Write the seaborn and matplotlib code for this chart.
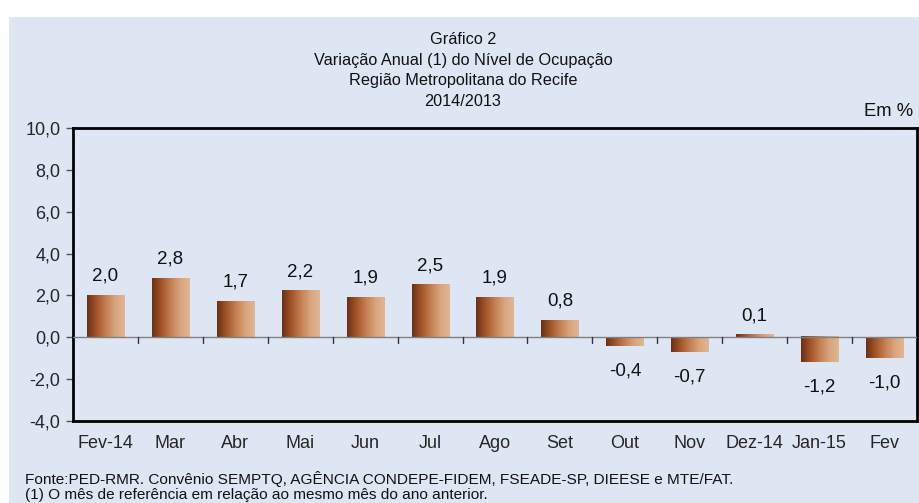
import numpy as np
import pandas as pd
import matplotlib
matplotlib.use("Agg")
import matplotlib.pyplot as plt
from matplotlib.colors import LinearSegmentedColormap
from matplotlib.patches import Rectangle
import seaborn as sns

meses = ["Fev-14", "Mar", "Abr", "Mai", "Jun", "Jul", "Ago", "Set",
         "Out", "Nov", "Dez-14", "Jan-15", "Fev"]
variacao = [2.0, 2.8, 1.7, 2.2, 1.9, 2.5, 1.9, 0.8, -0.4, -0.7, 0.1, -1.2, -1.0]
yticks = [-4, -2, 0, 2, 4, 6, 8, 10]

titulo = ["Gráfico 2",
          "Variação Anual (1) do Nível de Ocupação",
          "Região Metropolitana do Recife",
          "2014/2013"]
fonte = "Fonte:PED-RMR. Convênio SEMPTQ, AGÊNCIA CONDEPE-FIDEM, FSEADE-SP, DIEESE e MTE/FAT."
nota = "(1) O mês de referência em relação ao mesmo mês do ano anterior."

bg = "#dfe6f3"
sns.set_theme(style="white")
plt.rcParams["font.family"] = ["Liberation Sans", "DejaVu Sans"]

df = pd.DataFrame({"mes": meses, "valor": variacao})

fig = plt.figure(figsize=(9.2, 5.03), dpi=100)
fig.patch.set_facecolor("white")
# blue panel behind everything (white strip on top and left like the original)
fig.patches.append(Rectangle((9 / 920, 0), 1, 1 - 17 / 503, transform=fig.transFigure,
                             facecolor=bg, edgecolor="none", zorder=-10))

ax = fig.add_axes([73 / 920, 1 - 421 / 503, (917 - 73) / 920, (421 - 128) / 503])
ax.set_facecolor(bg)

sns.barplot(data=df, x="mes", y="valor", ax=ax, width=0.57, color="#b4663a",
            edgecolor="none", errorbar=None)

# gradient fill on each bar, dark left -> light right
cmap = LinearSegmentedColormap.from_list(
    "cobre", ["#6a3116", "#a4552a", "#c47f52", "#d9a47c", "#e0b596"])
grad = np.linspace(0, 1, 64).reshape(1, -1)
for p in ax.patches:
    x0, y0 = p.get_x(), p.get_y()
    w, h = p.get_width(), p.get_height()
    ax.imshow(grad, cmap=cmap, aspect="auto", zorder=3,
              extent=[x0, x0 + w, min(y0, y0 + h), max(y0, y0 + h)])
    p.set_alpha(0)

ax.set_xlim(-0.5, len(meses) - 0.5)
ax.set_ylim(-4, 10)
ax.set_yticks(yticks)
ax.set_yticklabels([f"{v:.1f}".replace(".", ",") for v in yticks], fontsize=13)
ax.tick_params(axis="y", direction="out", length=5, width=1, color="#555555",
               pad=4, left=True)
ax.tick_params(axis="x", length=0, labelsize=13, pad=10)
ax.set_xlabel("")
ax.set_ylabel("")

for s in ax.spines.values():
    s.set_visible(True)
    s.set_color("black")
    s.set_linewidth(2)

# zero line with small ticks between categories
ax.axhline(0, color="#808080", lw=1, zorder=4)
for i in range(1, len(meses)):
    ax.plot([i - 0.5, i - 0.5], [0, -0.25], color="#333333", lw=1, zorder=4)

# value labels
for i, v in enumerate(variacao):
    txt = f"{v:.1f}".replace(".", ",")
    off = 14 if v >= 0 else -18
    ax.annotate(txt, (i, v), xytext=(0, off), textcoords="offset points",
                ha="center", va="center", fontsize=13.5, color="#111111")

for k, linha in enumerate(titulo):
    fig.text(463 / 920, 1 - (40 + 20.5 * k) / 503, linha, ha="center", va="center",
             fontsize=11.7, color="#111111")
fig.text(913 / 920, 1 - 112 / 503, "Em %", ha="right", va="center",
         fontsize=13.3, color="#111111")

fig.text(25 / 920, 1 - 479 / 503, fonte, ha="left", va="center", fontsize=11.1,
         color="#111111")
fig.text(25 / 920, 1 - 495 / 503, nota, ha="left", va="center", fontsize=11.1,
         color="#111111")

fig.savefig("out.png", dpi=100, facecolor=fig.get_facecolor())
